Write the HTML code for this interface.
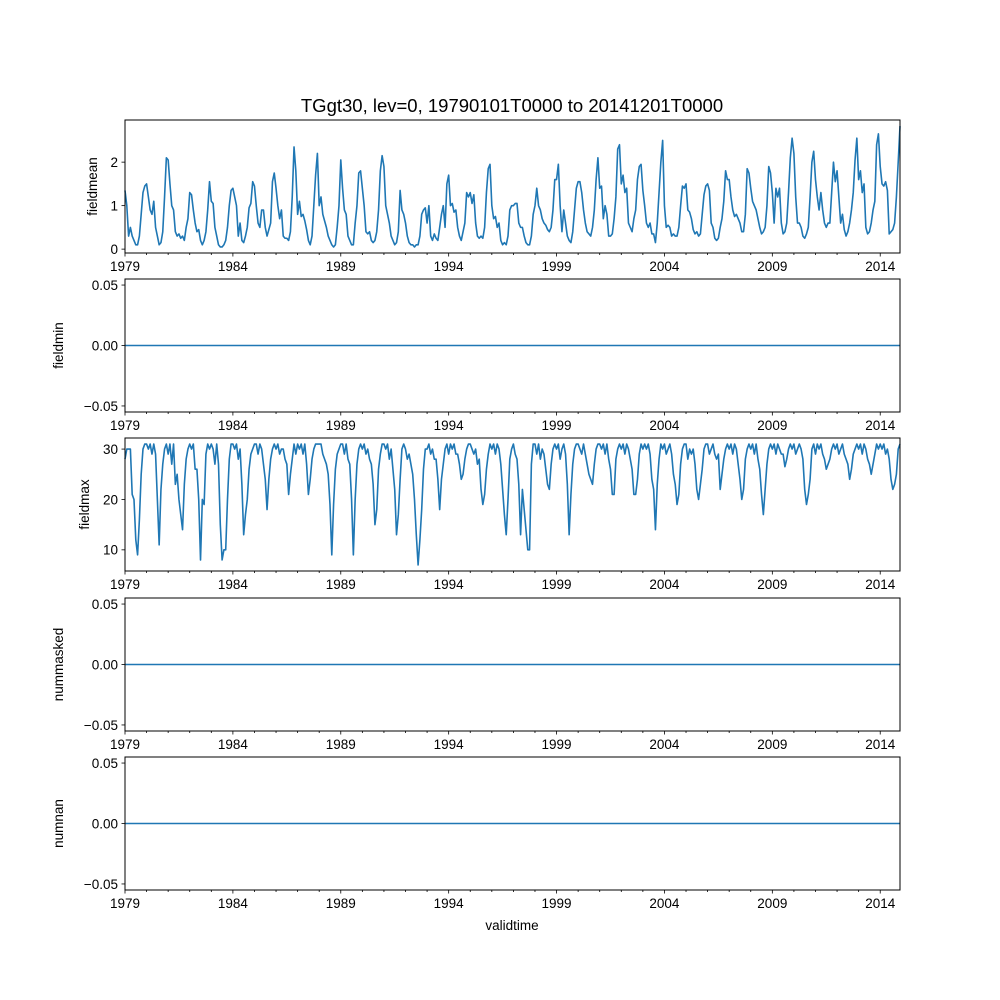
<!DOCTYPE html>
<html><head><meta charset="utf-8"><style>
html,body{margin:0;padding:0;background:#fff}
svg{display:block;font-family:"Liberation Sans","DejaVu Sans",sans-serif}
</style></head><body>
<svg id="fig" width="1000" height="1000" viewBox="0 0 1000 1000" xmlns="http://www.w3.org/2000/svg">
<rect width="1000" height="1000" fill="#fff"/>
<text x="512" y="112" font-size="18.5" text-anchor="middle">TGgt30, lev=0, 19790101T0000 to 20141201T0000</text>
<text x="512" y="930" font-size="13.5" text-anchor="middle">validtime</text>
</svg>
<script>
const startYear = 1979;
const yearTicks = [1979,1984,1989,1994,1999,2004,2009,2014];
const fieldmeanValues = [
1.35,1.0,0.3,0.5,0.3,0.2,0.1,0.1,0.3,0.8,1.3,1.45,
1.5,1.2,0.9,0.8,1.1,0.5,0.3,0.1,0.15,0.4,1.2,2.1,
2.05,1.5,1.0,0.9,0.4,0.3,0.35,0.25,0.3,0.2,0.5,0.7,
1.3,1.25,0.9,0.6,0.4,0.45,0.2,0.1,0.2,0.4,0.9,1.55,
1.1,1.05,0.5,0.3,0.1,0.05,0.05,0.1,0.2,0.5,1.0,1.35,
1.4,1.2,1.0,0.3,0.6,0.2,0.15,0.3,0.5,0.95,1.05,1.55,
1.45,1.0,0.6,0.5,0.9,0.9,0.5,0.3,0.45,0.6,1.55,1.75,
1.4,1.0,0.7,0.9,0.3,0.25,0.25,0.2,0.4,1.2,2.35,1.8,
0.8,1.1,0.75,0.8,0.65,0.45,0.2,0.1,0.3,1.0,1.7,2.2,
1.0,1.2,0.8,0.65,0.5,0.3,0.2,0.1,0.05,0.1,0.5,1.0,
2.05,1.4,0.9,0.8,0.3,0.2,0.1,0.1,0.6,1.0,1.75,1.8,
1.4,1.0,0.4,0.35,0.4,0.2,0.15,0.2,0.4,0.9,1.8,2.15,
1.9,1.0,0.8,0.6,0.3,0.2,0.1,0.15,0.4,1.35,0.9,0.8,
0.6,0.3,0.15,0.1,0.1,0.05,0.1,0.1,0.3,0.8,0.9,0.95,
0.6,1.0,0.3,0.2,0.35,0.25,0.2,0.5,0.8,1.0,0.5,1.5,
1.7,1.0,1.05,0.85,0.9,0.5,0.3,0.2,0.4,0.6,1.3,1.2,
1.3,1.05,1.25,0.6,0.3,0.25,0.3,0.25,0.5,1.3,1.85,1.95,
1.0,0.7,0.75,0.5,0.6,0.2,0.1,0.15,0.1,0.3,0.9,1.0,
1.0,1.05,1.05,0.6,0.5,0.5,0.3,0.15,0.1,0.1,0.3,0.8,
1.0,1.4,1.0,0.9,0.7,0.6,0.55,0.45,0.4,0.5,0.9,1.6,
1.6,1.95,1.0,0.4,0.9,0.6,0.3,0.2,0.15,0.4,0.9,1.4,
1.55,1.55,1.3,0.9,0.6,0.4,0.35,0.3,0.5,0.9,1.6,2.1,
1.4,1.45,0.7,1.0,0.8,0.3,0.3,0.35,0.7,1.2,2.3,2.4,
1.5,1.7,1.3,1.4,0.6,0.5,0.4,0.7,0.9,1.6,1.9,1.95,
1.35,1.0,0.6,0.5,0.6,0.35,0.35,0.15,0.6,1.3,2.0,2.5,
1.0,0.5,0.55,0.5,0.3,0.35,0.3,0.3,0.5,1.0,1.45,1.4,
1.5,0.9,0.85,0.7,0.45,0.35,0.4,0.3,0.35,0.8,1.25,1.45,
1.5,1.35,0.6,0.5,0.25,0.2,0.25,0.5,0.7,1.1,1.8,1.6,
1.6,1.2,0.9,0.75,0.8,0.7,0.6,0.4,0.4,0.8,1.85,1.75,
1.4,1.1,1.0,0.9,0.7,0.5,0.35,0.4,0.5,1.0,1.9,1.75,
1.3,0.6,1.4,1.2,1.4,0.6,0.35,0.4,0.6,1.3,2.1,2.55,
2.2,1.2,0.6,0.6,0.5,0.3,0.25,0.35,0.5,1.2,2.0,2.25,
1.6,1.2,0.9,1.3,0.9,0.6,0.5,0.6,0.6,1.3,2.0,1.55,
1.8,1.2,0.6,0.8,0.45,0.3,0.4,0.6,0.9,1.3,2.05,2.55,
1.6,1.8,1.3,1.5,0.5,0.35,0.4,0.6,0.9,1.1,2.4,2.65,
1.9,1.5,1.45,1.55,1.35,0.35,0.4,0.45,0.6,1.2,2.0,2.83];
const fieldmaxValues = [
28,30,30,30,21,20,12,9,16,25,30,31,
31,30,31,29,31,29,20,11,22,27,30,31,
29,31,27,31,23,25,20,17,14,23,28,30,
31,30,31,26,26,20,8,20,19,29,31,30,
31,30,27,31,27,15,8,10,10,20,28,31,
31,30,31,28,30,23,13,17,20,26,29,30,
31,31,29,31,30,27,24,18,24,28,30,31,
30,31,29,30,30,28,27,21,25,28,31,29,
31,30,31,29,31,27,21,24,28,30,31,31,
31,31,29,28,27,25,19,9,19,26,29,30,
31,31,29,31,28,27,20,9,20,27,30,31,
30,31,29,30,28,27,23,15,18,26,29,31,
31,30,31,28,30,26,22,13,17,24,30,31,
30,28,29,27,25,20,13,7,12,18,26,30,
30,31,29,30,28,28,24,18,24,27,30,31,
29,31,30,31,29,29,27,24,25,28,30,31,
31,30,29,30,27,28,22,19,21,26,29,31,
30,31,29,31,30,27,22,17,13,20,28,30,
31,29,28,23,13,22,18,14,10,10,27,31,
31,29,31,28,30,29,26,23,22,27,30,31,
30,31,28,30,31,29,23,13,21,27,30,31,
31,30,29,31,29,27,25,24,23,27,30,31,
31,30,31,29,31,28,26,21,21,28,30,31,
30,31,29,31,30,28,26,21,21,24,29,31,
30,31,30,31,29,24,22,14,23,28,31,30,
31,29,30,31,29,25,23,19,21,27,30,31,
31,28,30,29,30,27,22,20,23,26,30,31,
31,29,30,31,29,28,29,22,25,28,30,31,
30,31,29,31,30,27,24,20,22,28,30,31,
30,31,29,31,28,26,21,17,22,27,30,31,
30,31,29,31,30,29,29,26.5,28,30,31,30,
31,29,30,31,30,28,22,19,21,24,30,31,
29,31,30,31,29,28,26,27,28,30,31,30,
31,29,30,31,29,28,27,24,26,29,30,31,
30,31,29,31,30,28,27,25,27,29,31,30,
31,30,31,29,30,28,24,22,23,25,30,31];
const nMonths = 432;
const fieldminValues = new Array(nMonths).fill(0);
const nummaskedValues = new Array(nMonths).fill(0);
const numnanValues = new Array(nMonths).fill(0);
const meanTicks = [0,1,2];
const maxTicks = [10,20,30];
const zeroTicks = [-0.05,0,0.05];
const zeroTickLabels = ["−0.05","0.00","0.05"];

const NS = "http://www.w3.org/2000/svg";
const svg = document.getElementById('fig');
const X0 = 125, X1 = 900;
const tMin = 1979, tMax = 1979 + (nMonths - 1) / 12;
function xScale(t){ return X0 + (t - tMin) / (tMax - tMin) * (X1 - X0); }
function mk(tag, attrs, parent){ const e = document.createElementNS(NS, tag); for (const k in attrs) e.setAttribute(k, attrs[k]); (parent||svg).appendChild(e); return e; }

const panels = [
 {name:'fieldmean', top:120, bot:253, vals:fieldmeanValues, ticks:meanTicks, labels:meanTicks.map(String), auto:true},
 {name:'fieldmin', top:279, bot:412, vals:fieldminValues, ticks:zeroTicks, labels:zeroTickLabels, lim:[-0.055,0.055]},
 {name:'fieldmax', top:438, bot:571, vals:fieldmaxValues, ticks:maxTicks, labels:maxTicks.map(String), auto:true},
 {name:'nummasked', top:598, bot:731, vals:nummaskedValues, ticks:zeroTicks, labels:zeroTickLabels, lim:[-0.055,0.055]},
 {name:'numnan', top:757, bot:890, vals:numnanValues, ticks:zeroTicks, labels:zeroTickLabels, lim:[-0.055,0.055]}
];

panels.forEach(p => {
  let lo, hi;
  if (p.auto) { const mn = Math.min(...p.vals), mx = Math.max(...p.vals), pad = (mx - mn) * 0.05; lo = mn - pad; hi = mx + pad; }
  else { lo = p.lim[0]; hi = p.lim[1]; }
  const yS = v => p.bot - (v - lo) / (hi - lo) * (p.bot - p.top);
  const g = mk('g', {});
  
  
  let d = '';
  p.vals.forEach((v, i) => { d += (i ? 'L' : 'M') + xScale(tMin + i / 12).toFixed(2) + ',' + yS(v).toFixed(2); });
  const path = mk('path', {d:d, fill:'none', stroke:'#1f77b4', 'stroke-width':1.6, 'stroke-linejoin':'round'}, g);
  
  
  const fr = mk('rect', {x:X0, y:p.top, width:X1 - X0, height:p.bot - p.top, fill:'none', stroke:'#000', 'stroke-width':1}, g);
  
  
  p.ticks.forEach((t, i) => {
    const y = yS(t);
    mk('line', {x1:X0 - 3.5, x2:X0, y1:y, y2:y, stroke:'#000', 'stroke-width':0.8}, g);
    const tx = mk('text', {x:X0 - 7, y:y + 4.8, 'font-size':13.5, 'text-anchor':'end'}, g);
    
    
    tx.textContent = p.labels[i];
  });
  for (let yr = 1979; yr <= 2014; yr++) {
    const x = xScale(yr);
    const major = yearTicks.includes(yr);
    mk('line', {x1:x, x2:x, y1:p.bot, y2:p.bot + (major ? 3.5 : 2), stroke:'#000', 'stroke-width':0.8}, g);
  }
  yearTicks.forEach(yr => {
    const tx = mk('text', {x:xScale(yr), y:p.bot + 18, 'font-size':13.5, 'text-anchor':'middle'}, g);
    
    
    tx.textContent = String(yr);
  });
  const cy = (p.top + p.bot) / 2;
  const yl = mk('text', {x:0, y:0, 'font-size':13.5, 'text-anchor':'middle', transform:'translate(' + (p.name==='fieldmean' ? 97 : (p.name==='fieldmax' ? 89 : 63)) + ',' + cy + ') rotate(-90)'}, g);
  
  
  yl.textContent = p.name;
});
</script>
</body></html>
